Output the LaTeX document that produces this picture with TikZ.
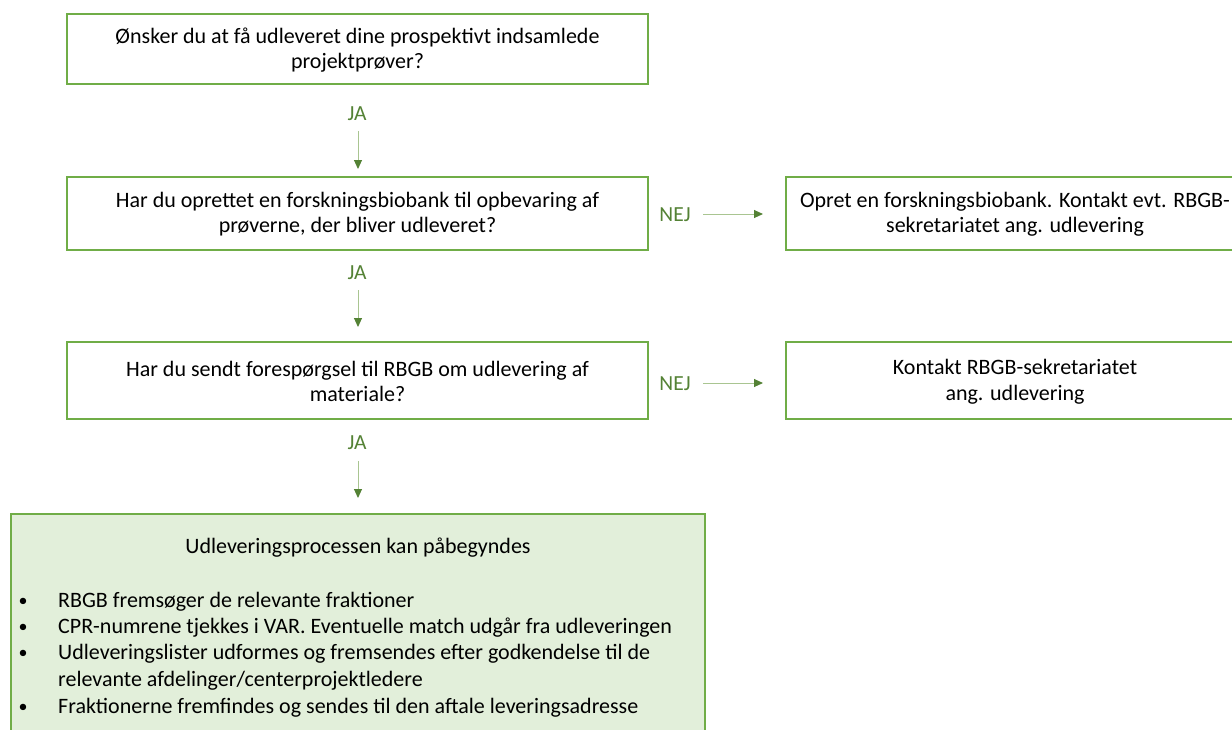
\documentclass[tikz,border=0pt]{standalone}
\usepackage{fontspec}
\setmainfont{Carlito}
\usetikzlibrary{arrows.meta}
\definecolor{boxgreen}{HTML}{70AD47}
\definecolor{txtgreen}{HTML}{548235}
\definecolor{linegreen}{HTML}{A9C591}
\definecolor{fillgreen}{HTML}{E2EFDA}
\begin{document}
\begin{tikzpicture}[x=1pt,y=-1pt,
  qbox/.style={draw=boxgreen,line width=1.6pt,fill=white},
  lbl/.style={text=txtgreen,font=\fontsize{21.5}{24}\selectfont},
  arr/.style={draw=linegreen,line width=1pt,-{Triangle[length=9pt,width=8pt,color=txtgreen]}},
  txt/.style={align=center,font=\fontsize{22}{25.5}\selectfont}]
\useasboundingbox (0,0) rectangle (1232,729);
\clip (0,0) rectangle (1232,729);
% boxes
\draw[qbox] (67,14) rectangle (648,84);
\node[txt] (q1) at (357.5,50) {Ønsker du at få udleveret dine prospektivt indsamlede\\projektprøver?};
\draw[qbox] (67,177) rectangle (648,250);
\node[txt] (q2) at (357.5,214) {Har du oprettet en forskningsbiobank til opbevaring af\\prøverne, der bliver udleveret?};
\draw[qbox] (67,342) rectangle (648,419);
\node[txt] (q3) at (357.5,381.5) {Har du sendt forespørgsel til RBGB om udlevering af\\materiale?};
\draw[qbox] (786,177) rectangle (1244,250);
\node[txt] (r1) at (1015,214) {Opret en forskningsbiobank. Kontakt evt. RBGB-\\sekretariatet ang. udlevering};
\draw[qbox] (786,342) rectangle (1244,419);
\node[txt] (r2) at (1015,381.5) {Kontakt RBGB-sekretariatet\\ang. udlevering};
\draw[draw=boxgreen,line width=1.6pt,fill=fillgreen] (11,514) rectangle (705,760);
\node[font=\fontsize{22}{26}\selectfont] (t4) at (358,548) {Udleveringsprocessen kan påbegyndes};
\begin{scope}[every node/.style={anchor=west,font=\fontsize{22}{26}\selectfont,inner sep=0pt}]
\node (b1) at (58,602) {RBGB fremsøger de relevante fraktioner};
\node (b2) at (58,628) {CPR-numrene tjekkes i VAR. Eventuelle match udgår fra udleveringen};
\node (b3) at (58,654) {Udleveringslister udformes og fremsendes efter godkendelse til de};
\node (b3b) at (58,681) {relevante afdelinger/centerprojektledere};
\node (b4) at (58,708) {Fraktionerne fremfindes og sendes til den aftale leveringsadresse};
\end{scope}
\begin{scope}[every node/.style={font=\fontsize{18}{20}\selectfont,inner sep=0pt}]
\node at (23,602) {•};
\node at (23,628) {•};
\node at (23,654) {•};
\node at (23,708) {•};
\end{scope}
% labels
\node[lbl] (ja1) at (357,114) {JA};
\node[lbl] (ja2) at (357,273) {JA};
\node[lbl] (ja3) at (357,443) {JA};
\node[lbl] (nej1) at (675,215) {NEJ};
\node[lbl] (nej2) at (675,384) {NEJ};
% arrows
\coordinate (a1s) at (358,131); \coordinate (a1e) at (358,169);
\coordinate (a2s) at (358,290); \coordinate (a2e) at (358,327);
\coordinate (a3s) at (358,461); \coordinate (a3e) at (358,498);
\coordinate (h1s) at (703,214); \coordinate (h1e) at (763,214);
\coordinate (h2s) at (703,383); \coordinate (h2e) at (763,383);
\draw[arr] (a1s) -- (a1e);
\draw[arr] (a2s) -- (a2e);
\draw[arr] (a3s) -- (a3e);
\draw[arr] (h1s) -- (h1e);
\draw[arr] (h2s) -- (h2e);
\end{tikzpicture}
\end{document}
